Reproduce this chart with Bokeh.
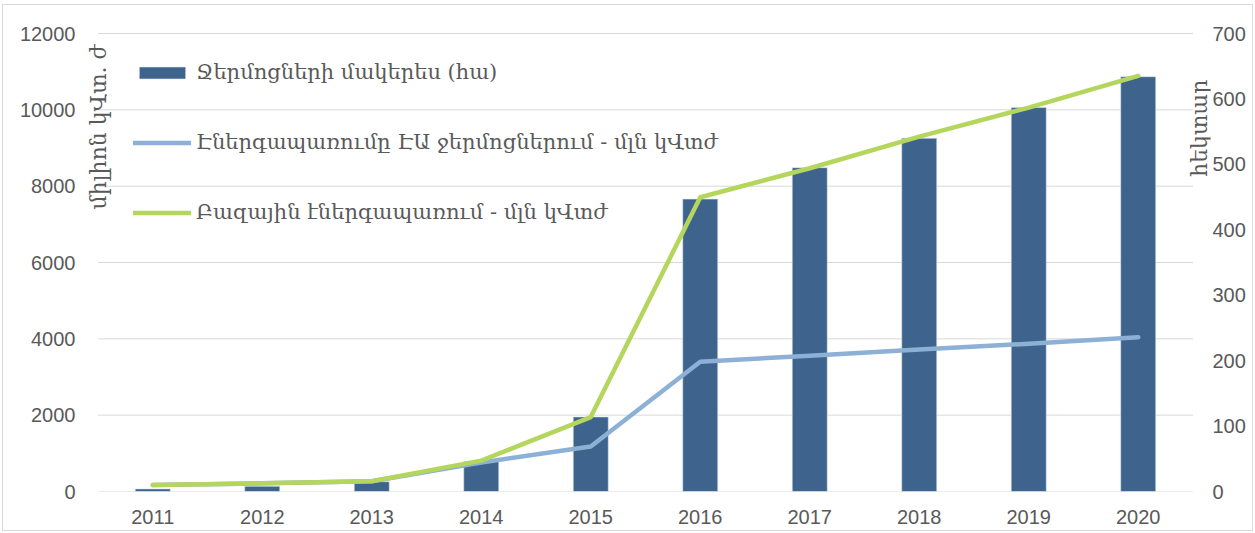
import math
from bokeh.plotting import figure
from bokeh.models import (Range1d, LinearAxis, FixedTicker, Legend, LegendItem,
                          Label, FactorRange)
from bokeh.embed import file_html
from bokeh.resources import INLINE

years = ["2011", "2012", "2013", "2014", "2015", "2016", "2017", "2018", "2019", "2020"]
area_ha = [4, 8, 15, 46, 114, 447, 495, 540, 587, 634]
ea_energy = [170, 215, 270, 760, 1180, 3400, 3560, 3720, 3870, 4040]
base_energy = [170, 215, 270, 810, 1950, 7710, 8470, 9300, 10060, 10890]

left_ticks = [0, 2000, 4000, 6000, 8000, 10000, 12000]
right_ticks = [0, 100, 200, 300, 400, 500, 600, 700]

legend_labels = ["Ջերմոցների մակերես (հա)",
                 "Էներգապառումը ԷԱ ջերմոցներում - մլն կՎտժ",
                 "Բազային էներգապառում - մլն կՎտժ"]
left_title = "միլիոն կՎտ. ժ"
right_title = "հեկտար"

BAR = "#3e638d"
BLUE = "#8db0d6"
GREEN = "#b4d65c"
TXT = "#595959"
GRID = "#d9d9d9"
ARM_FONT = "DejaVu Serif"
NUM_FONT = "Liberation Sans"

# frame slightly taller than the 0..12000 span so the axis titles fit inside
Y_EXTRA = 462 / 456
p = figure(width=1249, height=525,
           x_range=FactorRange(*years, range_padding=0.16, range_padding_units="absolute"),
           y_range=Range1d(0, 12000 * Y_EXTRA), output_backend="svg", toolbar_location=None,
           min_border_left=77, min_border_right=44, min_border_top=22, min_border_bottom=41)
p.styles = {"box-sizing": "content-box", "border": "1px solid #d9d9d9",
            "margin-left": "2px", "margin-top": "4px"}
p.outline_line_color = None
p.background_fill_color = "white"
p.border_fill_color = "white"
p.extra_y_ranges = {"ha": Range1d(0, 700 * Y_EXTRA)}

# gridlines spanning exactly the category area
p.xgrid.grid_line_color = None
p.ygrid.grid_line_color = None
p.segment(x0=[0] * len(left_ticks), x1=[len(years)] * len(left_ticks),
          y0=left_ticks, y1=left_ticks, line_color=GRID, line_width=1)

bars = p.vbar(x=years, top=area_ha, width=0.32, y_range_name="ha",
              fill_color=BAR, line_color="#dfe6ee", line_width=0.6)
l1 = p.line(x=years, y=ea_energy, line_color=BLUE, line_width=4.5,
            line_join="round", line_cap="round")
l2 = p.line(x=years, y=base_energy, line_color=GREEN, line_width=4.5,
            line_join="round", line_cap="round")

p.yaxis.ticker = FixedTicker(ticks=left_ticks)
for ax in [p.xaxis[0], p.yaxis[0]]:
    ax.axis_line_color = None
    ax.major_tick_line_color = None
    ax.minor_tick_line_color = None
    ax.major_tick_out = 0
    ax.major_tick_in = 0
    ax.major_label_text_font = NUM_FONT
    ax.major_label_text_font_size = "20px"
    ax.major_label_text_color = TXT
p.xaxis.major_label_standoff = 18
p.yaxis.major_label_standoff = 5

ra = LinearAxis(y_range_name="ha", ticker=FixedTicker(ticks=right_ticks))
ra.axis_line_color = None
ra.major_tick_line_color = None
ra.minor_tick_line_color = None
ra.major_tick_out = 0
ra.major_tick_in = 0
ra.major_label_text_font = NUM_FONT
ra.major_label_text_font_size = "20px"
ra.major_label_text_color = TXT
ra.major_label_standoff = 2
p.add_layout(ra, "right")

# axis titles
p.add_layout(Label(x=0.0, y=9550, text=left_title, angle=math.pi / 2,
                   text_align="center", text_baseline="middle",
                   text_font=ARM_FONT, text_font_size="22px", text_color=TXT))
p.add_layout(Label(x=10.06, y=9520, text=right_title, angle=math.pi / 2,
                   text_align="center", text_baseline="middle",
                   text_font=ARM_FONT, text_font_size="22px", text_color=TXT))

legend = Legend(items=[LegendItem(label=legend_labels[0], renderers=[bars]),
                       LegendItem(label=legend_labels[1], renderers=[l1]),
                       LegendItem(label=legend_labels[2], renderers=[l2])],
                location=(53, 267), padding=0, margin=0,
                glyph_width=58, glyph_height=15, label_height=24,
                spacing=46, label_standoff=5,
                label_text_font=ARM_FONT, label_text_font_size="21px",
                label_text_color=TXT, border_line_color=None,
                background_fill_alpha=0)
p.add_layout(legend)

open("out.html", "w").write(file_html(p, INLINE))
